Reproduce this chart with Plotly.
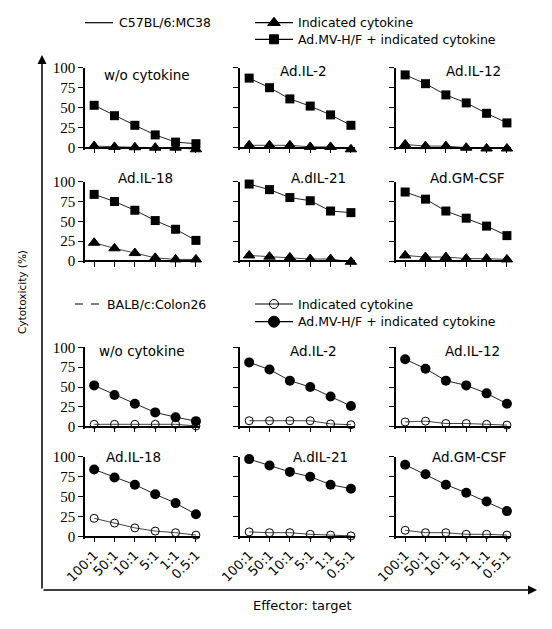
import plotly.graph_objects as go

W, H = 552, 629
OFF = 8  # page body margin of the html page
FW, FH = W - OFF, H - OFF

ratios = ["100:1", "50:1", "10:1", "5:1", "1:1", "0.5:1"]
panel_titles = ["w/o cytokine", "Ad.IL-2", "Ad.IL-12", "Ad.IL-18", "A.dIL-21", "Ad.GM-CSF"]

# C57BL/6:MC38 group
mc38_combo = [
    [53, 40, 28, 16, 7, 5],
    [87, 75, 61, 52, 41, 28],
    [91, 80, 66, 56, 43, 31],
    [84, 75, 64, 51, 40, 26],
    [97, 90, 80, 76, 63, 61],
    [87, 78, 63, 54, 44, 32],
]
mc38_cyto = [
    [2, 1, 0.5, 0, 0, -2],
    [3, 3, 3, 1, 1, -2],
    [4, 2, 2, 0, -1, -1],
    [23, 16, 10, 4, 2, 2],
    [7, 5.5, 4.5, 2.5, 2.5, -1],
    [7, 5, 5, 3, 3, 2],
]
# BALB/c:Colon26 group
colon_combo = [
    [52, 40, 29, 18, 12, 7],
    [81, 72, 58, 50, 38, 26],
    [85, 73, 58, 52, 42, 29],
    [84, 74, 65, 53, 42, 28],
    [97, 89, 81, 75, 65, 60],
    [90, 78, 65, 55, 44, 32],
]
colon_cyto = [
    [3, 3, 3, 3, 3, 1],
    [7.5, 7.5, 7.5, 7.5, 3.5, 2.5],
    [6, 7, 4, 4, 3, 2],
    [23, 17, 11, 7, 5, 2],
    [6, 5, 5, 3, 2, 1],
    [8, 5, 5, 3, 3, 2],
]
y_ticks = [0, 25, 50, 75, 100]

SANS = "DejaVu Sans"
SERIF = "Liberation Serif"

def px(x):
    return (x - OFF) / FW

def py(y):
    return 1 - (y - OFF) / FH

YMIN = -3
col_px = [(85, 200), (240, 355), (396, 511)]
row_px = [(67.7, 147.7), (181.7, 261), (347.3, 426.7), (456.7, 536.7)]
title_px = [
    [(147, 75), (303, 71), (473, 71)],
    [(145, 178), (318, 178), (467, 178)],
    [(142, 351), (313, 351), (472, 351)],
    [(133, 457), (320, 457), (469, 457)],
]

fig = go.Figure()
layout = dict(
    width=FW, height=FH, margin=dict(l=0, r=0, t=0, b=0, pad=0, autoexpand=False),
    paper_bgcolor="white", plot_bgcolor="rgba(0,0,0,0)", showlegend=False,
    template="none",
)
annotations = []

n = 0
for r in range(4):
    group_colon = r >= 2
    for c in range(3):
        n += 1
        pidx = (r % 2) * 3 + c
        xa = "x" if n == 1 else f"x{n}"
        ya = "y" if n == 1 else f"y{n}"
        xkey = "xaxis" if n == 1 else f"xaxis{n}"
        ykey = "yaxis" if n == 1 else f"yaxis{n}"
        x0, x1 = col_px[c]
        ytop, ybot = row_px[r]
        unit = (ybot - ytop) / 100.0
        ydom_bot = ybot - YMIN * unit
        show_xlab = (r == 3)
        layout[xkey] = dict(
            domain=[px(x0), px(x1)], anchor="free", position=py(ybot),
            range=[-0.45, 5.2],
            tickmode="array", tickvals=list(range(6)),
            ticktext=ratios,
            showticklabels=show_xlab, tickangle=-45,
            ticks="outside", ticklen=5, tickwidth=1.2, tickcolor="black",
            showline=True, linecolor="black", linewidth=1.5,
            showgrid=False, zeroline=False, automargin=False,
            tickfont=dict(family=SANS, size=13, color="black"),
        )
        layout[ykey] = dict(
            domain=[py(ydom_bot), py(ytop)], anchor=xa, range=[YMIN, 100],
            tickmode="array", tickvals=y_ticks,
            showticklabels=(c == 0),
            ticks="outside", ticklen=5, tickwidth=1.2, tickcolor="black",
            showline=True, linecolor="black", linewidth=1.5,
            showgrid=False, zeroline=False, automargin=False,
            tickfont=dict(family=SERIF, size=15, color="black"),
        )
        if group_colon:
            combo, cyto = colon_combo[pidx], colon_cyto[pidx]
            sym_combo, sym_cyto = "circle", "circle-open"
            sz_combo, sz_cyto = 10, 8
        else:
            combo, cyto = mc38_combo[pidx], mc38_cyto[pidx]
            sym_combo, sym_cyto = "square", "triangle-up"
            sz_combo, sz_cyto = 9, 10
        fig.add_trace(go.Scatter(
            x=list(range(6)), y=cyto, xaxis=xa, yaxis=ya, mode="lines+markers",
            line=dict(color="#444", width=1),
            marker=dict(symbol=sym_cyto, size=sz_cyto, color="black",
                        line=dict(color="black", width=1)),
            cliponaxis=False,
        ))
        fig.add_trace(go.Scatter(
            x=list(range(6)), y=combo, xaxis=xa, yaxis=ya, mode="lines+markers",
            line=dict(color="#222", width=1),
            marker=dict(symbol=sym_combo, size=sz_combo, color="black"),
            cliponaxis=False,
        ))
        tx, ty = title_px[r][c]
        annotations.append(dict(
            text=panel_titles[pidx], x=px(tx), y=py(ty), xref="paper", yref="paper",
            showarrow=False, xanchor="center", yanchor="middle",
            font=dict(family=SANS, size=13.5, color="black"),
        ))

# overlay axis in page-pixel coordinates for legend symbols
layout["xaxis13"] = dict(domain=[0, 1], range=[OFF, W], visible=False, anchor="y13",
                         fixedrange=True, automargin=False)
layout["yaxis13"] = dict(domain=[0, 1], range=[H, OFF], visible=False, anchor="x13",
                         fixedrange=True, automargin=False)

leg_items = [
    (85, 113, 22.7, "solid", None, "C57BL/6:MC38", 117),
    (255, 293, 22.7, "solid", "triangle-up", "Indicated cytokine", 296),
    (255, 293, 39.3, "solid", "square", "Ad.MV-H/F + indicated cytokine", 296),
    (75, 101, 304, "dash", None, "BALB/c:Colon26", 105),
    (255, 293, 304, "solid", "circle-open", "Indicated cytokine", 296),
    (255, 293, 321.7, "solid", "circle", "Ad.MV-H/F + indicated cytokine", 296),
]
for lx0, lx1, ly, dash, sym, label, tx in leg_items:
    fig.add_trace(go.Scatter(
        x=[lx0, lx1], y=[ly, ly], xaxis="x13", yaxis="y13", mode="lines",
        line=dict(color="black", width=1.2, dash="8px,8px" if dash == "dash" else "solid"),
        hoverinfo="skip", cliponaxis=False,
    ))
    if sym:
        sz = {"triangle-up": 11, "square": 9, "circle-open": 9, "circle": 11}[sym]
        fig.add_trace(go.Scatter(
            x=[(lx0 + lx1) / 2], y=[ly], xaxis="x13", yaxis="y13", mode="markers",
            marker=dict(symbol=sym, size=sz, color="black",
                        line=dict(color="black", width=1)),
            hoverinfo="skip", cliponaxis=False,
        ))
    annotations.append(dict(
        text=label, x=px(tx), y=py(ly), xref="paper", yref="paper",
        showarrow=False, xanchor="left", yanchor="middle",
        font=dict(family=SANS, size=12.5, color="black"),
    ))

# big frame arrows
annotations.append(dict(
    text="", x=px(42), y=py(55), xref="paper", yref="paper",
    ax=0, ay=590 - 55, axref="pixel", ayref="pixel",
    showarrow=True, arrowhead=2, arrowsize=1.2, arrowwidth=1.5, arrowcolor="black",
    standoff=0, startstandoff=0,
))
annotations.append(dict(
    text="", x=px(537), y=py(590), xref="paper", yref="paper",
    ax=-(537 - 42), ay=0, axref="pixel", ayref="pixel",
    showarrow=True, arrowhead=2, arrowsize=1.2, arrowwidth=1.5, arrowcolor="black",
    standoff=0, startstandoff=0,
))
annotations.append(dict(
    text="Cytotoxicity (%)", x=px(22), y=py(292), xref="paper", yref="paper",
    showarrow=False, textangle=-90, xanchor="center", yanchor="middle",
    font=dict(family=SANS, size=10.5, color="black"),
))
annotations.append(dict(
    text="Effector: target", x=px(302), y=py(605), xref="paper", yref="paper",
    showarrow=False, xanchor="center", yanchor="middle",
    font=dict(family=SANS, size=13, color="black"),
))

layout["annotations"] = annotations
fig.update_layout(**layout)
fig.write_html("out.html")
